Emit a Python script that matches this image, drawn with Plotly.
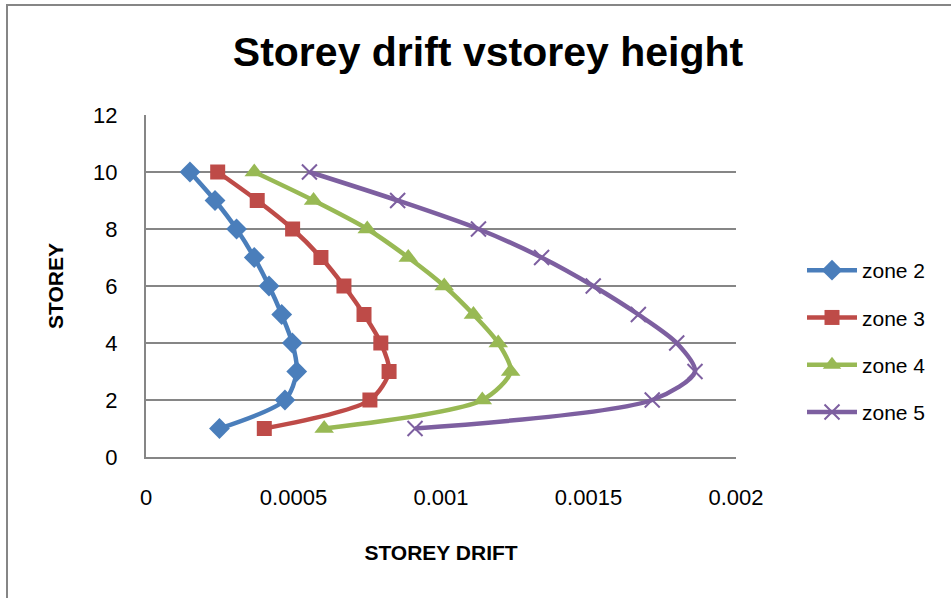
import plotly.graph_objects as go

storeys = [10, 9, 8, 7, 6, 5, 4, 3, 2, 1]
zone2 = [0.000149, 0.000234, 0.000307, 0.000367, 0.000417, 0.000460, 0.000496, 0.000511, 0.000471, 0.000249]
zone3 = [0.000243, 0.000377, 0.000497, 0.000593, 0.000671, 0.000739, 0.000796, 0.000824, 0.000759, 0.000401]
zone4 = [0.000367, 0.000568, 0.000750, 0.000889, 0.001011, 0.001110, 0.001194, 0.001236, 0.001140, 0.000604]
zone5 = [0.000554, 0.000853, 0.001127, 0.001341, 0.001516, 0.001669, 0.001799, 0.001861, 0.001716, 0.000912]

x_ticks = [0, 0.0005, 0.001, 0.0015, 0.002]
x_tick_labels = ["0", "0.0005", "0.001", "0.0015", "0.002"]
y_ticks = [0, 2, 4, 6, 8, 10, 12]

series = [
    ("zone 2", zone2, "#4A7EBB", "diamond", 16, None),
    ("zone 3", zone3, "#BE4B48", "square", 15, None),
    ("zone 4", zone4, "#98B954", "triangle-up", 17, None),
    ("zone 5", zone5, "#7D5FA0", "x-thin-open", 15, 2),
]

FONT = "Liberation Sans, Arial, sans-serif"

fig = go.Figure()
for name, vals, color, sym, size, lw in series:
    marker = dict(symbol=sym, size=size, color=color)
    if lw:
        marker["line"] = dict(color=color, width=lw)
    else:
        marker["line"] = dict(width=0)
    fig.add_trace(go.Scatter(
        x=vals, y=storeys, name=name, legendgroup=name, mode="lines+markers",
        line=dict(color=color, width=4.5, shape="spline", smoothing=0.8),
        marker=marker,
    ))

W, H = 951, 598
L, R, T, B = 146, 215, 115, 141
pw, ph = W - L - R, H - T - B

def px(x):
    return (x - L) / pw

def py(y):
    return 1 - (y - T) / ph

fig.update_layout(
    width=W, height=H,
    margin=dict(l=L, r=R, t=T, b=B),
    paper_bgcolor="white", plot_bgcolor="white",
    font=dict(family=FONT, size=20, color="black"),
    title=dict(text="<b>Storey drift vstorey height</b>", xref="container", x=488 / W, xanchor="center",
               yref="container", y=1 - 52 / H, yanchor="middle", font=dict(size=41, family=FONT)),
    xaxis=dict(range=[0, 0.002], tickvals=x_ticks, ticktext=x_tick_labels,
               showgrid=False, zeroline=False, showline=True, linecolor="#868686", linewidth=2,
               ticks="", tickfont=dict(size=22), ticklabelstandoff=20,
               title=dict(text="<b>STOREY DRIFT</b>", font=dict(size=21), standoff=36)),
    yaxis=dict(range=[0, 12], tickvals=y_ticks, showgrid=True, gridcolor="#868686", gridwidth=1.5,
               zeroline=False, showline=True, linecolor="#868686", linewidth=2,
               ticks="", tickfont=dict(size=22), ticklabelstandoff=22,
               title=dict(text="<b>STOREY</b>", font=dict(size=21), standoff=24)),
    legend=dict(x=px(802), xanchor="left", y=py(250), yanchor="top",
                font=dict(size=21), tracegroupgap=17, itemwidth=50,
                bgcolor="rgba(0,0,0,0)"),
    showlegend=True,
)

# outer chart border (left and top edges visible)
fig.add_shape(type="line", xref="paper", yref="paper",
              x0=px(7), x1=px(7), y0=py(4), y1=py(600),
              line=dict(color="#868686", width=2))
fig.add_shape(type="line", xref="paper", yref="paper",
              x0=px(6), x1=px(952), y0=py(5), y1=py(5),
              line=dict(color="#868686", width=2))

fig.write_html("out.html", config={"displayModeBar": False},
               post_script="document.body.style.margin='0';document.body.style.overflow='hidden';")
